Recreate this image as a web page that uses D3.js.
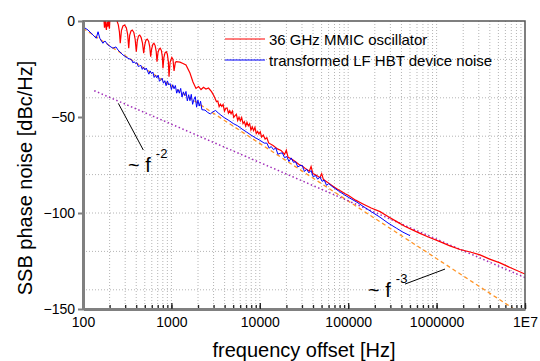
<!DOCTYPE html>
<html>
<head>
<meta charset="utf-8">
<script src="https://cdn.jsdelivr.net/npm/d3@7"></script>
<style>
  body { margin: 0; background: #fff; }
  text { font-family: Arial, 'Liberation Sans', sans-serif; }
</style>
</head>
<body>
<div id="chart-area"></div>
<script>
// Measured phase noise of the 36 GHz MMIC oscillator, [offset Hz, dBc/Hz]
const oscillator = [
    [150, 6], [172, 1.5], [175, -3.5], [178, 0.5], [181, -2.5], [184, -4.7], [187, -0.5],
    [190, -3.0], [193, 0.5], [196, -2.0], [199, -4.0], [202, 1.5], [215, 5], [235, 3],
    [244, -0.4], [251, -2.0], [258, -5.5], [264, -11.6], [272, -5.0], [283, -2.6],
    [296, -2.1], [309, -3.5], [320, -7.0], [329, -14.2], [337, -7.5], [349, -5.2],
    [361, -4.7], [376, -6.0], [389, -9.5], [401, -16.0], [411, -10.5], [424, -7.8],
    [438, -7.3], [454, -8.5], [471, -11.5], [486, -16.8], [499, -12.5], [515, -10.0],
    [533, -9.4], [552, -10.5], [569, -13.5], [583, -18.6], [598, -14.5], [617, -12.2],
    [635, -11.6], [655, -12.8], [673, -15.8], [687, -21.2], [705, -16.5], [726, -14.7],
    [748, -14.2], [771, -15.4], [789, -18.5], [803, -24.6], [822, -19.0], [847, -16.6],
    [875, -16.0], [899, -17.2], [923, -21.0], [940, -29.0], [966, -21.5], [1012, -19.0],
    [1042, -20.0], [1072, -26.0], [1109, -21.5], [1135, -21.2], [1250, -21.4], [1352, -22.1],
    [1462, -22.9], [1622, -27.1], [1754, -31.8], [1897, -35.1], [2028, -34.1], [2163, -35.7],
    [2307, -34.5], [2460, -35.4], [2630, -34.9], [2844, -36.8], [3034, -39.1], [3236, -42.0],
    [3350, -41.7], [3467, -44.6], [3589, -43.3], [3715, -44.5], [3846, -43.5], [3981, -46.9],
    [4121, -45.5], [4266, -45.3], [4416, -48.0], [4571, -46.7], [4732, -48.3], [4898, -46.9],
    [5070, -50.2], [5248, -49.3], [5433, -48.6], [5623, -51.8], [5821, -50.1], [6026, -52.0],
    [6237, -50.3], [6457, -53.4], [6683, -52.4], [6918, -54.7], [7161, -52.7], [7413, -54.6],
    [7674, -53.5], [7943, -56.8], [8222, -55.2], [8511, -57.1], [8810, -55.4], [9120, -58.6],
    [9441, -57.5], [9772, -58.9], [10120, -57.7], [10470, -60.4], [10960, -59.4], [11480, -61.5],
    [12020, -60.8], [12590, -63.5], [14130, -64.9], [15850, -66.6], [17380, -67.4], [19050, -69.5],
    [19950, -67.3], [20890, -71.0], [22910, -71.9], [25120, -73.2], [27540, -74.6], [30200, -75.5],
    [33110, -77.0], [36310, -78.2], [38020, -75.8], [39810, -79.4], [43650, -80.4], [47860, -81.6],
    [50120, -79.5], [52480, -82.6], [57540, -83.8], [63100, -85.2], [69180, -86.4], [75860, -87.6],
    [83180, -88.7], [91200, -89.8], [100000, -90.8], [121100, -93.3], [146900, -95.3],
    [182000, -97.4], [229100, -99.3], [281800, -101.8], [354000, -104.5], [436500, -106.9],
    [540800, -108.9], [648600, -110.6], [794300, -112.4], [1091000, -114.9], [1413000, -117.1],
    [1841000, -119.0], [2399000, -120.3], [3097000, -121.8], [3981000, -124.0], [5212000, -126.0],
    [7079000, -128.8], [10000000, -131.8]
];

// LF HBT device noise transformed to 36 GHz, [offset Hz, dBc/Hz]
const hbtNoise = [
    [100, -3.0], [114, -4.7], [130, -7.3], [141, -9.0], [148, -5.6], [155, -9.0], [168, -11.6],
    [177, -10.4], [192, -12.5], [218, -14.2], [236, -13.5], [249, -15.1], [283, -17.7], [323, -19.4],
    [355, -20.2], [367, -21.8], [380, -21.2], [394, -22.2], [407, -21.7], [422, -23.7], [437, -23.4],
    [452, -23.1], [468, -25.2], [484, -24.1], [501, -25.5], [519, -24.5], [537, -26.1], [556, -27.7],
    [575, -26.0], [596, -27.4], [617, -26.6], [638, -29.4], [661, -28.3], [684, -29.6], [708, -28.2],
    [733, -31.4], [759, -30.6], [785, -29.8], [813, -32.4], [841, -31.1], [871, -33.7], [902, -31.2],
    [933, -33.3], [966, -32.6], [1000, -35.7], [1035, -33.2], [1072, -35.3], [1109, -33.6],
    [1148, -37.6], [1189, -35.6], [1230, -37.6], [1274, -35.1], [1318, -39.6], [1365, -36.9],
    [1413, -38.8], [1462, -36.7], [1514, -41.6], [1567, -38.4], [1622, -41.5], [1679, -38.2],
    [1738, -43.4], [1799, -40.8], [1862, -39.4], [1928, -44.9], [1995, -41.2], [2065, -44.3],
    [2138, -41.8], [2213, -46.2], [2399, -46.4], [2570, -47.6], [2754, -48.4], [2951, -47.3],
    [3162, -46.6], [3388, -47.9], [3631, -49.0], [3981, -50.4], [4467, -51.8], [5012, -53.4],
    [5623, -54.6], [6310, -56.3], [7079, -57.8], [7943, -59.4], [8913, -60.8], [10000, -62.1],
    [11220, -63.6], [12020, -63.6], [12740, -66.2], [13490, -65.4], [14290, -67.0], [15140, -66.1],
    [16030, -69.4], [16980, -68.9], [17990, -68.7], [19050, -71.2], [20180, -70.6], [21380, -73.2],
    [22650, -71.3], [23990, -73.6], [25410, -73.3], [26920, -76.0], [28510, -75.3], [30200, -75.2],
    [31990, -78.4], [33880, -77.2], [35890, -79.1], [38020, -77.9], [40270, -81.2], [42660, -80.4],
    [45190, -82.4], [47860, -81.2], [50700, -83.5], [53700, -82.9], [56890, -85.6], [60260, -84.7],
    [67610, -86.6], [79430, -88.8], [91200, -90.6], [104700, -92.3], [125900, -94.4],
    [146900, -96.5], [182000, -99.3], [229100, -102.2], [281800, -105.2], [354000, -108.0],
    [416900, -110.0], [500000, -111.8]
];

// Guide lines
const slopeF2 = [[134, -36.3], [10000000, -133.6]];
const slopeF3 = [[100, -3.8], [7500000, -150]];

const xTickValues = [100, 1000, 10000, 100000, 1000000, 10000000];
const xTickLabels = ['100', '1000', '10000', '100000', '1000000', '1E7'];
const yTickValues = [0, -50, -100, -150];
const legendLabels = ['36 GHz MMIC oscillator', 'transformed LF HBT device noise'];

const wChart = 540;
const hChart = 361;
const margin = {top: 21, right: 15, bottom: 52, left: 83};
const wGraph = wChart - margin.left - margin.right;
const hGraph = hChart - margin.top - margin.bottom;

const svg = d3.select('#chart-area')
    .append('svg')
    .attr('width', wChart)
    .attr('height', hChart);

const graph = svg.append('g')
    .attr('transform', `translate(${margin.left}, ${margin.top})`);

const xScale = d3.scaleLog()
    .domain([100, 1e7])
    .range([0, wGraph]);

const yScale = d3.scaleLinear()
    .domain([-150, 0])
    .range([hGraph, 0]);

// Dotted grid
graph.append('g')
    .selectAll('line')
    .data(xScale.ticks().filter(d => d > 100 && d < 1e7))
    .enter()
    .append('line')
    .attr('x1', d => xScale(d))
    .attr('x2', d => xScale(d))
    .attr('y1', 0)
    .attr('y2', hGraph)
    .attr('stroke', '#b4b4b4')
    .attr('stroke-dasharray', '1,2');

graph.append('g')
    .selectAll('line')
    .data(yScale.ticks(6).filter(d => d > -150 && d < 0))
    .enter()
    .append('line')
    .attr('x1', 0)
    .attr('x2', wGraph)
    .attr('y1', d => yScale(d))
    .attr('y2', d => yScale(d))
    .attr('stroke', '#b4b4b4')
    .attr('stroke-dasharray', '1,2');

graph.append('defs')
    .append('clipPath')
    .attr('id', 'plot-clip')
    .append('rect')
    .attr('width', wGraph)
    .attr('height', hGraph);

const line = d3.line()
    .x(d => xScale(d[0]))
    .y(d => yScale(d[1]));

const curves = graph.append('g')
    .attr('clip-path', 'url(#plot-clip)');

curves.append('path')
    .datum(slopeF3)
    .attr('d', line)
    .attr('fill', 'none')
    .attr('stroke', '#ff9426')
    .attr('stroke-width', 1.3)
    .attr('stroke-dasharray', '4,3');

curves.append('path')
    .datum(slopeF2)
    .attr('d', line)
    .attr('fill', 'none')
    .attr('stroke', '#a02cb8')
    .attr('stroke-width', 1.5)
    .attr('stroke-dasharray', '1.5,2.5');

curves.append('path')
    .datum(oscillator)
    .attr('d', line)
    .attr('fill', 'none')
    .attr('stroke', '#ff0000')
    .attr('stroke-width', 1.2);

curves.append('path')
    .datum(hbtNoise)
    .attr('d', line)
    .attr('fill', 'none')
    .attr('stroke', '#0000ff')
    .attr('stroke-width', 1);

// Frame: thin top and right, heavy grey left and bottom
graph.append('rect')
    .attr('width', wGraph)
    .attr('height', hGraph)
    .attr('fill', 'none')
    .attr('stroke', '#555')
    .attr('stroke-width', 1.5);

// X axis with inward ticks
graph.append('g')
    .attr('transform', `translate(0, ${hGraph})`)
    .call(d3.axisBottom(xScale).tickValues(xScale.ticks()).tickSize(-4).tickFormat(''))
    .call(g => g.select('.domain').remove())
    .call(g => g.selectAll('line').attr('stroke', '#222').attr('stroke-width', 1.3));

const xAxisCall = d3.axisBottom(xScale)
    .tickValues(xTickValues)
    .tickSizeInner(-6)
    .tickSizeOuter(0)
    .tickPadding(8)
    .tickFormat((d, i) => xTickLabels[i]);

graph.append('g')
    .attr('class', 'x-axis')
    .attr('transform', `translate(0, ${hGraph})`)
    .call(xAxisCall)
    .call(g => g.select('.domain').attr('stroke', '#808080').attr('stroke-width', 3))
    .call(g => g.selectAll('line').attr('stroke', '#222').attr('stroke-width', 1.3))
    .call(g => g.selectAll('text').attr('font-size', '14px').attr('fill', '#000')
        .attr('font-family', "Arial, 'Liberation Sans', sans-serif"));

// Y axis
const yAxisCall = d3.axisLeft(yScale)
    .tickValues(yTickValues)
    .tickSizeInner(5)
    .tickSizeOuter(0)
    .tickPadding(3);

graph.append('g')
    .attr('class', 'y-axis')
    .call(yAxisCall)
    .call(g => g.select('.domain').attr('stroke', '#808080').attr('stroke-width', 3))
    .call(g => g.selectAll('line').attr('stroke', '#808080').attr('stroke-width', 2))
    .call(g => g.selectAll('text').attr('font-size', '14px').attr('fill', '#000')
        .attr('font-family', "Arial, 'Liberation Sans', sans-serif"));

// Axis labels
svg.append('text')
    .attr('x', 304)
    .attr('y', 357)
    .attr('font-size', '20px')
    .attr('text-anchor', 'middle')
    .text('frequency offset [Hz]');

svg.append('text')
    .attr('transform', 'translate(32, 178) rotate(-90)')
    .attr('font-size', '20px')
    .attr('text-anchor', 'middle')
    .text('SSB phase noise [dBc/Hz]');

// Legend
const legend = svg.append('g')
    .attr('transform', 'translate(225, 39)');

legendLabels.forEach((label, i) => {
    const row = legend.append('g')
        .attr('transform', `translate(0, ${i * 21})`);
    row.append('line')
        .attr('x1', 0)
        .attr('x2', 40)
        .attr('stroke', i === 0 ? '#ff0000' : '#0000ff')
        .attr('stroke-width', 1);
    row.append('text')
        .attr('x', 44)
        .attr('y', 5.5)
        .attr('font-size', '15px')
        .text(label);
});

// Slope annotations
const note = (tx, ty, sup, x1, y1, x2, y2) => {
    graph.append('line')
        .attr('x1', xScale(x1)).attr('y1', yScale(y1))
        .attr('x2', xScale(x2)).attr('y2', yScale(y2))
        .attr('stroke', '#000')
        .attr('stroke-width', 1);
    const t = graph.append('text')
        .attr('x', xScale(tx))
        .attr('y', yScale(ty))
        .attr('font-size', '20px');
    t.append('tspan').text('~ f');
    t.append('tspan')
        .attr('dx', 5)
        .attr('dy', -13.5)
        .attr('font-size', '13px')
        .text(sup);
};

note(323, -78.6, '-2', 251, -42.9, 481, -67.2);
note(167500, -143.7, '-3', 439600, -137.0, 1245000, -129.2);
</script>
</body>
</html>
